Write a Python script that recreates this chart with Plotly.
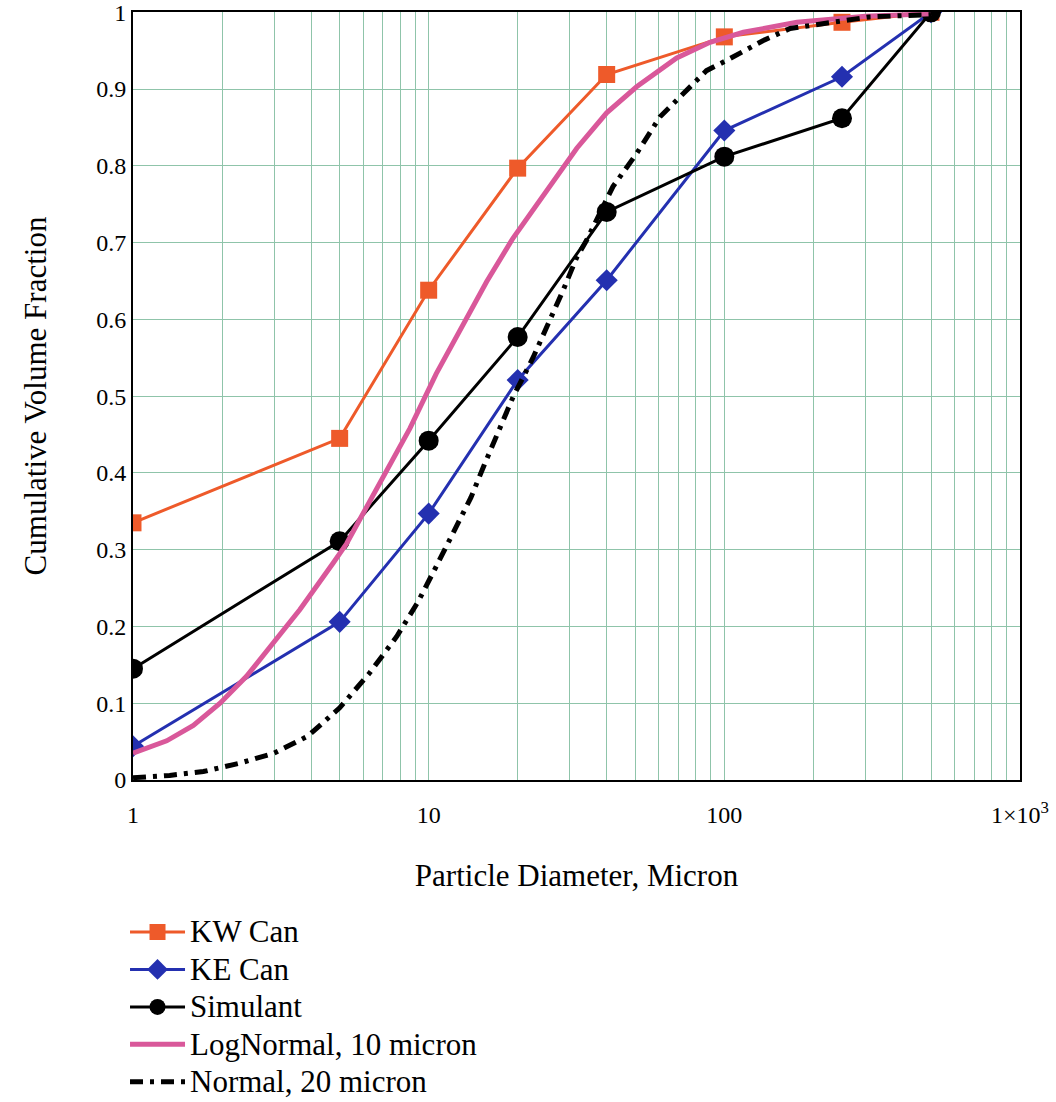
import plotly.graph_objects as go

# Sieve diameters (micron) for the measured samples
diam = [1, 5, 10, 20, 40, 100, 250, 500]
kw_can = [0.335, 0.445, 0.638, 0.797, 0.919, 0.968, 0.987, 1.0]
ke_can = [0.044, 0.206, 0.347, 0.521, 0.651, 0.846, 0.916, 1.0]
simulant = [0.145, 0.311, 0.442, 0.577, 0.740, 0.812, 0.862, 1.0]

# Reference distribution curves
lognorm_x = [1.0, 1.3, 1.6, 1.97, 2.42, 2.98, 3.67, 4.76, 5.28, 5.86, 6.84,
             8.64, 10.6, 13.1, 15.7, 19.3, 23.8, 25.7, 31.7, 40, 50.5, 69, 89.4,
             116, 176, 300, 500]
lognorm_y = [0.035, 0.051, 0.071, 0.100, 0.135, 0.178, 0.222, 0.283, 0.308, 0.340,
             0.387, 0.458, 0.529, 0.593, 0.649, 0.706, 0.755, 0.772, 0.823,
             0.869, 0.903, 0.9405, 0.961, 0.974, 0.987, 0.995, 0.998]

normal_x = [1.0, 1.33, 1.73, 2.3, 3.0, 3.9, 5.0, 6.3, 7.8, 9.2, 10.6, 12.1, 13.9,
            15.4, 17.4, 19.3, 22.6, 25.1, 28.5, 31.7, 34.2, 42, 50.5, 60.6, 76.5,
            87, 102, 135, 167, 310, 500]
normal_y = [0.003, 0.006, 0.011, 0.022, 0.035, 0.057, 0.094, 0.139, 0.187, 0.232,
            0.278, 0.321, 0.368, 0.410, 0.456, 0.499, 0.551, 0.590, 0.638, 0.681,
            0.703, 0.773, 0.816, 0.864, 0.903, 0.924, 0.9375, 0.963, 0.979, 0.994,
            0.997]

x_tickvals = [1, 10, 100, 1000]
x_ticktext = ["1", "10", "100", "1×10<sup>3</sup>"]
x_minor = [m * d for d in (1, 10, 100) for m in range(2, 10)]
y_tickvals = [round(i * 0.1, 1) for i in range(11)]
y_ticktext = ["0", "0.1", "0.2", "0.3", "0.4", "0.5", "0.6", "0.7", "0.8", "0.9", "1"]

FONT = "Liberation Serif, Times New Roman, serif"
GRID = "#8fc4aa"


def legend_label(text):
    # larger glyphs while keeping the compact legend row pitch
    return f'<span style="font-size:31px">{text}</span>'


fig = go.Figure()

fig.add_trace(go.Scatter(
    x=diam, y=kw_can, name=legend_label("KW Can"), mode="lines+markers",
    legendgroup="a",
    line=dict(color="#ee5a2a", width=3),
    marker=dict(symbol="square", size=17, color="#ee5a2a"),
))
fig.add_trace(go.Scatter(
    x=diam, y=ke_can, name=legend_label("KE Can"), mode="lines+markers",
    legendgroup="b",
    line=dict(color="#2430b0", width=3),
    marker=dict(symbol="diamond", size=17, color="#2430b0"),
))
fig.add_trace(go.Scatter(
    x=diam, y=simulant, name=legend_label("Simulant"), mode="lines+markers",
    legendgroup="c",
    line=dict(color="black", width=3),
    marker=dict(symbol="circle", size=20, color="black"),
))
fig.add_trace(go.Scatter(
    x=lognorm_x, y=lognorm_y, name=legend_label("LogNormal, 10 micron"),
    mode="lines", legendgroup="d", line=dict(color="#d9589a", width=5),
))
fig.add_trace(go.Scatter(
    x=normal_x, y=normal_y, name=legend_label("Normal, 20 micron"),
    mode="lines", legendgroup="e",
    line=dict(color="black", width=5, dash="13px,7px,4px,7px"),
))

fig.update_layout(
    width=1056, height=1102,
    margin=dict(l=133, r=36, t=12, b=322, autoexpand=False),
    paper_bgcolor="white", plot_bgcolor="white",
    font=dict(family=FONT, color="black", size=24),
    legend=dict(
        x=-0.009, y=-0.167, xanchor="left", yanchor="top",
        font=dict(family=FONT, size=26.5),
        itemwidth=55, tracegroupgap=0,
        bgcolor="rgba(0,0,0,0)",
    ),
    showlegend=True,
)

fig.update_xaxes(
    type="log", range=[0, 3],
    tickmode="array", tickvals=x_tickvals, ticktext=x_ticktext,
    tickfont=dict(size=24), ticks="", ticklabelstandoff=12,
    ticklabeloverflow="allow",
    showgrid=True, gridcolor=GRID, gridwidth=1,
    minor=dict(tickmode="array", tickvals=x_minor, showgrid=True,
               gridcolor=GRID, gridwidth=1, ticks=""),
    showline=True, linecolor="black", linewidth=2, mirror=True,
    zeroline=False,
    title=dict(text="Particle Diameter, Micron", font=dict(size=31), standoff=38),
)
fig.update_yaxes(
    range=[0, 1.0004],
    tickmode="array", tickvals=y_tickvals, ticktext=y_ticktext,
    tickfont=dict(size=24), ticks="", ticklabelstandoff=0,
    ticklabeloverflow="allow",
    showgrid=True, gridcolor=GRID, gridwidth=1,
    showline=True, linecolor="black", linewidth=2, mirror=True,
    zeroline=False,
    title=dict(text="Cumulative Volume Fraction", font=dict(size=31), standoff=40),
)

fig.write_html("out.html")
